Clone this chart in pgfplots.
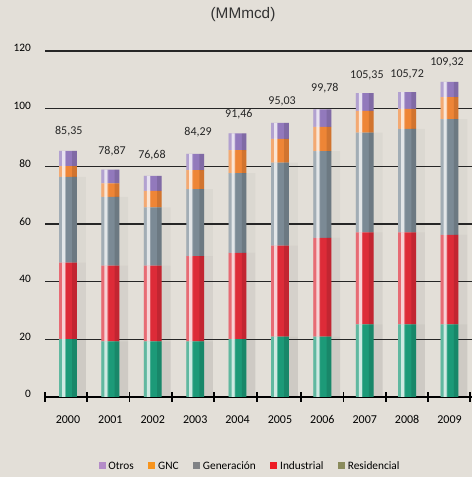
\documentclass[border=0pt]{standalone}
\usepackage{pgfplots}
\pgfplotsset{compat=1.18}
\usepackage{fontspec}
\setmainfont{Carlito}
\newfontfamily\titlefont{Liberation Sans}

\definecolor{bg}{HTML}{E3DFD8}
% bar colours
\definecolor{resC}{HTML}{1C9A78}
\definecolor{indC}{HTML}{DD2B38}
\definecolor{genC}{HTML}{7B8A95}
\definecolor{gncC}{HTML}{EE8536}
\definecolor{otrC}{HTML}{9279BC}
% legend colours
\definecolor{resL}{HTML}{8A8B5C}
\definecolor{indL}{HTML}{ED1C24}
\definecolor{genL}{HTML}{808285}
\definecolor{gncL}{HTML}{F7941D}
\definecolor{otrL}{HTML}{B48CC8}

\pgfplotstableread{
x   res   ind   gen   gnc   otr
0   20.1  26.5  29.7  3.8   5.25
1   19.3  26.3  23.8  4.7   4.77
2   19.3  26.3  20.2  5.7   5.18
3   19.3  29.6  23.2  6.6   5.59
4   20.1  29.9  27.6  8.0   5.86
5   20.9  31.6  28.8  8.2   5.53
6   20.9  34.3  30.1  8.4   6.08
7   25.2  31.9  34.6  7.5   6.15
8   25.2  31.9  35.9  6.9   5.82
9   25.2  31.0  40.2  7.6   5.32
}\datatable

\tikzset{tot/.style={font=\fontsize{9}{10}\selectfont, text=black!85}}
\pgfplotsset{
  frame/.style={at={(33.75pt,60pt)}, anchor=south west,
    scale only axis, width=320.25pt, height=259.5pt,
    xmin=-0.542, xmax=9.53, ymin=0, ymax=120},
  overlay/.style={frame, hide axis, ybar stacked, bar shift=#1},
}

\begin{document}
\begin{tikzpicture}
\useasboundingbox (0,0) rectangle (354pt,357.75pt);
\fill[bg] (0,0) rectangle (354pt,357.75pt);
\node[font=\titlefont\fontsize{11.5}{12}\selectfont, text=black!80] at (182.25pt,347pt) {(MMmcd)};

% soft shadows behind the bars
\begin{axis}[overlay=0.24, bar width=0.36]
\addplot[draw=none, fill=black, fill opacity=0.09] table[x=x, y=res] {\datatable};
\addplot[draw=none, fill=black, fill opacity=0.06] table[x=x, y=ind] {\datatable};
\addplot[draw=none, fill=black, fill opacity=0.03] table[x=x, y=gen] {\datatable};
\end{axis}

\begin{axis}[
  frame,
  ybar stacked, bar width=0.42,
  axis lines*=left,
  y axis line style={draw=none},
  x axis line style={black, line width=1.5pt},
  major tick length=0pt,
  ytick={0,20,...,120},
  ymajorgrids, grid style={black!85, line width=0.8pt},
  xtick={0,...,9},
  xticklabels={2000,2001,2002,2003,2004,2005,2006,2007,2008,2009},
  extra x ticks={-0.54,0.45,1.45,2.45,3.44,4.46,5.5,6.5,7.5,8.49,9.48},
  extra x tick labels={},
  extra x tick style={major tick length=7pt, tick align=center,
    tick style={draw=black, line width=1.2pt}},
  /pgf/number format/assume math mode=true,
  yticklabel style={font=\fontsize{8.5}{9}\selectfont, xshift=-7pt, yshift=2pt},
  xticklabel style={font=\fontsize{9}{10}\selectfont, yshift=-10.5pt},
  clip=false,
  legend style={at={(0.481,-0.202)}, anchor=center, draw=none, fill=none,
    legend columns=5, font=\fontsize{8.5}{9}\selectfont,
    /tikz/every even column/.append style={column sep=9pt}},
  reverse legend,
]
\addplot[draw=none, fill=resC,
  legend image code/.code={\fill[resL] (0pt,-1.6pt) rectangle (5.25pt,3.6pt);}]
  table[x=x, y=res] {\datatable};
\addplot[draw=none, fill=indC,
  legend image code/.code={\fill[indL] (0pt,-1.6pt) rectangle (5.25pt,3.6pt);}]
  table[x=x, y=ind] {\datatable};
\addplot[draw=none, fill=genC,
  legend image code/.code={\fill[genL] (0pt,-1.6pt) rectangle (5.25pt,3.6pt);}]
  table[x=x, y=gen] {\datatable};
\addplot[draw=none, fill=gncC,
  legend image code/.code={\fill[gncL] (0pt,-1.6pt) rectangle (5.25pt,3.6pt);}]
  table[x=x, y=gnc] {\datatable};
\addplot[draw=none, fill=otrC,
  legend image code/.code={\fill[otrL] (0pt,-1.6pt) rectangle (5.25pt,3.6pt);}]
  table[x=x, y=otr] {\datatable};
\legend{Residencial, Industrial, Generación, GNC, Otros}

\node[tot] at (axis cs:0.02,92.3) {85,35};
\node[tot] at (axis cs:1.04,85.3) {78,87};
\node[tot] at (axis cs:1.98,83.9) {76,68};
\node[tot] at (axis cs:3.07,91.9) {84,29};
\node[tot] at (axis cs:4.03,98.2) {91,46};
\node[tot] at (axis cs:5.05,102.7) {95,03};
\node[tot] at (axis cs:6.06,107.2) {99,78};
\node[tot] at (axis cs:7.05,111.7) {105,35};
\node[tot] at (axis cs:8.00,112.0) {105,72};
\node[tot] at (axis cs:8.94,115.9) {109,32};
\end{axis}

% pale left band of each bar
\begin{axis}[overlay=-0.13, bar width=0.16]
\addplot[draw=none, fill=white, fill opacity=0.3] table[x=x, y=res] {\datatable};
\addplot[draw=none, fill=white, fill opacity=0.3] table[x=x, y=ind] {\datatable};
\addplot[draw=none, fill=white, fill opacity=0.3] table[x=x, y=gen] {\datatable};
\addplot[draw=none, fill=white, fill opacity=0.3] table[x=x, y=gnc] {\datatable};
\addplot[draw=none, fill=white, fill opacity=0.3] table[x=x, y=otr] {\datatable};
\end{axis}
% bright highlight stripe
\begin{axis}[overlay=-0.105, bar width=0.07]
\addplot[draw=none, fill=white, fill opacity=0.7] table[x=x, y=res] {\datatable};
\addplot[draw=none, fill=white, fill opacity=0.7] table[x=x, y=ind] {\datatable};
\addplot[draw=none, fill=white, fill opacity=0.7] table[x=x, y=gen] {\datatable};
\addplot[draw=none, fill=white, fill opacity=0.7] table[x=x, y=gnc] {\datatable};
\addplot[draw=none, fill=white, fill opacity=0.7] table[x=x, y=otr] {\datatable};
\end{axis}
% darker right side
\begin{axis}[overlay=0.155, bar width=0.11]
\addplot[draw=none, fill=black, fill opacity=0.12] table[x=x, y=res] {\datatable};
\addplot[draw=none, fill=black, fill opacity=0.12] table[x=x, y=ind] {\datatable};
\addplot[draw=none, fill=black, fill opacity=0.12] table[x=x, y=gen] {\datatable};
\addplot[draw=none, fill=black, fill opacity=0.12] table[x=x, y=gnc] {\datatable};
\addplot[draw=none, fill=black, fill opacity=0.12] table[x=x, y=otr] {\datatable};
\end{axis}
\end{tikzpicture}
\end{document}
